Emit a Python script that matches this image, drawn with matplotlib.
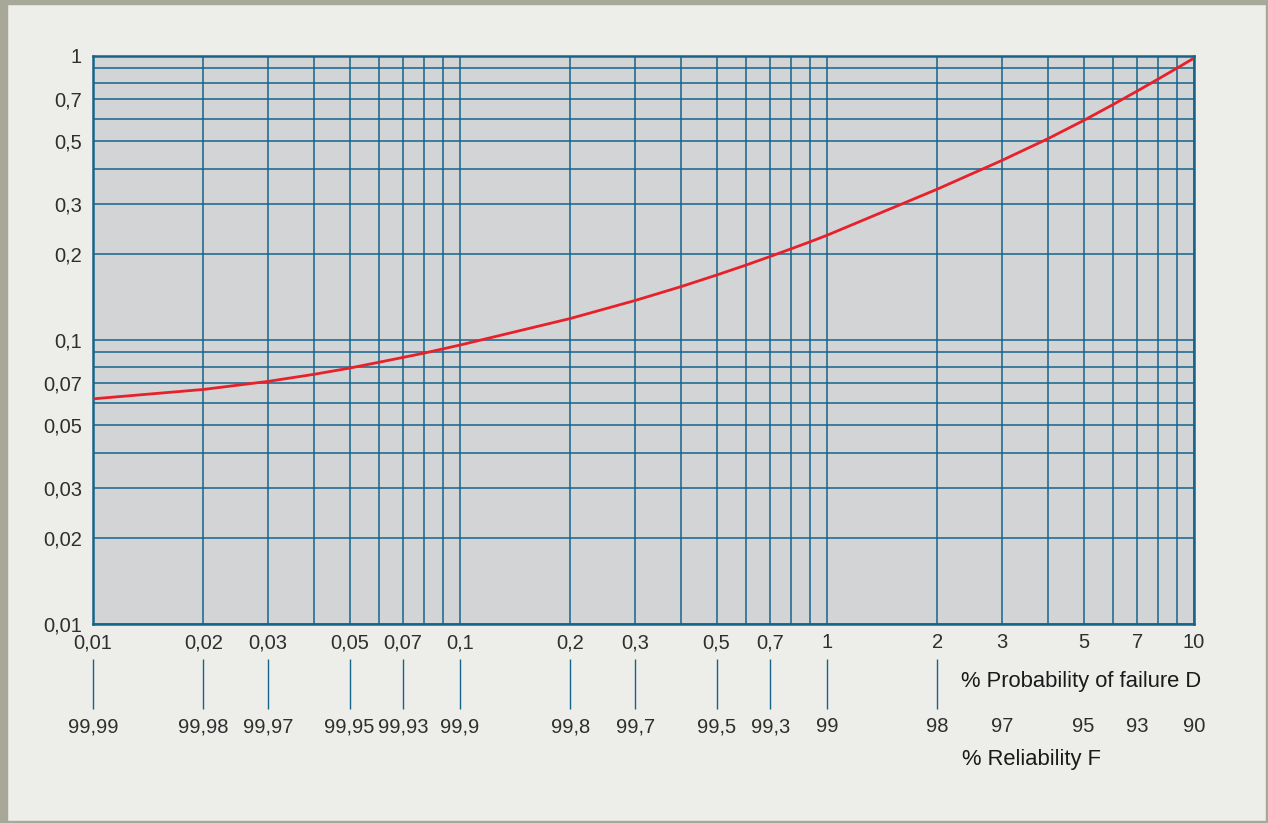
import matplotlib
matplotlib.use("Agg")
import matplotlib.pyplot as plt
from matplotlib.patches import Rectangle

# Curve: probability of failure D (%) vs. value
fail_pct = [0.01, 0.02, 0.03, 0.04, 0.05, 0.06, 0.07, 0.08, 0.1, 0.2, 0.3, 0.4, 0.5,
            0.6, 0.7, 0.8, 0.9, 1, 2, 3, 4, 5, 6, 7, 8, 9, 10]
curve_val = [0.0618, 0.0667, 0.0712, 0.0754, 0.0793, 0.0831, 0.0865, 0.0896, 0.0956,
             0.1186, 0.1372, 0.1535, 0.1686, 0.1826, 0.196, 0.2088, 0.2209, 0.2328,
             0.3386, 0.4274, 0.5094, 0.5902, 0.6706, 0.7494, 0.8272, 0.9036, 0.979]

# Axis ticks
x_ticks = [0.01, 0.02, 0.03, 0.05, 0.07, 0.1, 0.2, 0.3, 0.5, 0.7, 1, 2, 3, 5, 7, 10]
x_labels = ["0,01", "0,02", "0,03", "0,05", "0,07", "0,1", "0,2", "0,3", "0,5", "0,7",
            "1", "2", "3", "5", "7", "10"]
rel_labels = ["99,99", "99,98", "99,97", "99,95", "99,93", "99,9", "99,8", "99,7",
              "99,5", "99,3", "99", "98", "97", "95", "93", "90"]
y_ticks = [0.01, 0.02, 0.03, 0.05, 0.07, 0.1, 0.2, 0.3, 0.5, 0.7, 1]
y_labels = ["0,01", "0,02", "0,03", "0,05", "0,07", "0,1", "0,2", "0,3", "0,5", "0,7", "1"]
# connector marks between the two scales (up to 2)
link_ticks = [0.01, 0.02, 0.03, 0.05, 0.07, 0.1, 0.2, 0.3, 0.5, 0.7, 1, 2]

grid_vals = [m * 10.0 ** e for e in (-2, -1, 0) for m in range(1, 10)] + [10]

blue = "#15658a"
bg = "#ededea"
txt = "#2e2e2e"
plt.rcParams["font.family"] = ["Liberation Sans", "DejaVu Sans"]

fig = plt.figure(figsize=(12.68, 8.23), dpi=100, facecolor=bg)
ax = fig.add_axes([93 / 1268, 1 - 623.5 / 823, 1101 / 1268, 568 / 823])
ax.set_facecolor("#d3d4d6")
ax.set_xscale("log")
ax.set_yscale("log")
ax.set_xlim(0.01, 10)
ax.set_ylim(0.01, 1)

# grid
for v in grid_vals:
    ax.axvline(v, color=blue, lw=1.1, zorder=1)
    if v <= 1:
        ax.axhline(v, color=blue, lw=1.1, zorder=1)
for s in ax.spines.values():
    s.set_color(blue)
    s.set_linewidth(1.8)

ax.plot(fail_pct, curve_val, color="#e8202a", lw=2.0, zorder=3)

ax.set_xticks(x_ticks, x_labels)
ax.set_yticks(y_ticks, y_labels)
ax.minorticks_off()
ax.tick_params(axis="x", length=0, pad=7, labelsize=14.5, labelcolor=txt)
ax.tick_params(axis="y", length=0, pad=8, labelsize=14.5, labelcolor=txt)

# connector lines and reliability scale
tr = ax.get_xaxis_transform()
ax.vlines(link_ticks, -0.0625, -0.1505, transform=tr, color=blue, lw=1.0, clip_on=False)
for xv, lab in zip(x_ticks, rel_labels):
    ax.text(xv, -0.182, lab, transform=tr, ha="center", va="center",
            fontsize=14.5, color=txt)

fig.text(1201 / 1268, 1 - 681 / 823, "% Probability of failure D", ha="right",
         va="center", fontsize=15.8, color="#1a1a1a")
fig.text(962 / 1268, 1 - 760 / 823, "% Reliability F", ha="left",
         va="center", fontsize=15.8, color="#1a1a1a")

# outer frame
frame = "#a8a898"
fig.patches.append(Rectangle((0, 0), 7 / 1268, 1, transform=fig.transFigure, color=frame))
fig.patches.append(Rectangle((0, 1 - 4 / 823), 1, 4 / 823, transform=fig.transFigure, color=frame))
fig.patches.append(Rectangle((1 - 2 / 1268, 0), 2 / 1268, 1, transform=fig.transFigure, color=frame))
fig.patches.append(Rectangle((0, 0), 1, 2 / 823, transform=fig.transFigure, color=frame))

fig.savefig("out.png", dpi=100, facecolor=bg)
